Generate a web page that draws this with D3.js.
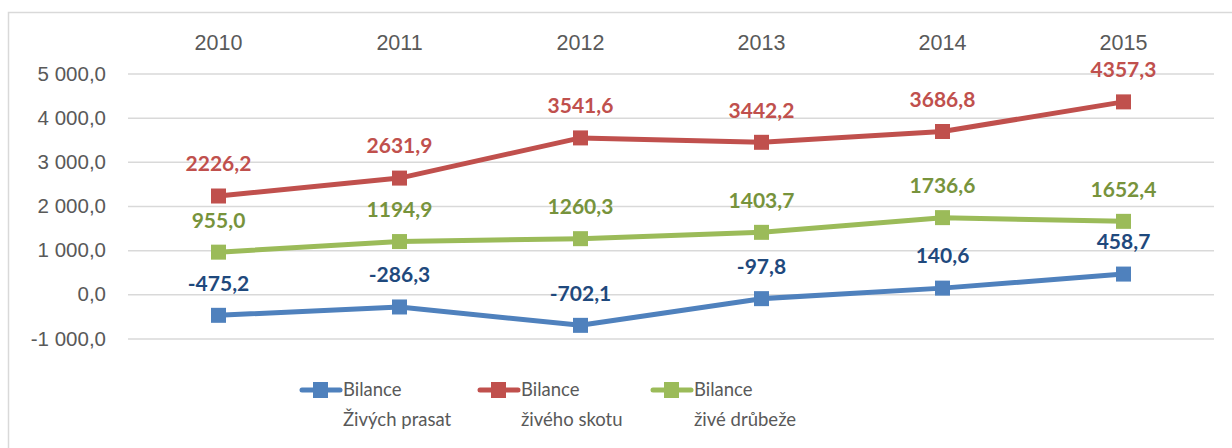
<!DOCTYPE html>
<html>
<head>
<meta charset="utf-8">
<script src="https://cdn.jsdelivr.net/npm/d3@7"></script>
<style>
  html, body { margin: 0; padding: 0; background: #fff; }
  svg { display: block; font-family: Lato, "Open Sans", sans-serif; }
</style>
</head>
<body>
<svg id="chart" width="1232" height="448"></svg>
<script>
// Years on the category axis
const years = ["2010", "2011", "2012", "2013", "2014", "2015"];
// Balance values per series
const pigs    = [-475.2, -286.3, -702.1, -97.8, 140.6, 458.7];
const cattle  = [2226.2, 2631.9, 3541.6, 3442.2, 3686.8, 4357.3];
const poultry = [955.0, 1194.9, 1260.3, 1403.7, 1736.6, 1652.4];
// Value axis ticks
const yTicks = [-1000, 0, 1000, 2000, 3000, 4000, 5000];
// Legend entries (two lines each)
const seriesNames = [["Bilance", "Živých prasat"], ["Bilance", "živého skotu"], ["Bilance", "živé drůbeže"]];

const series = [
  { name: seriesNames[0], values: pigs,    line: "#4F81BD", label: "#1F497D" },
  { name: seriesNames[1], values: cattle,  line: "#C0504D", label: "#C0504D" },
  { name: seriesNames[2], values: poultry, line: "#9BBB59", label: "#77933C" }
];

const svg = d3.select("#chart");

// Outer frame
svg.append("rect")
  .attr("x", 8.5).attr("y", 12.5)
  .attr("width", 1250).attr("height", 460)
  .attr("fill", "none").attr("stroke", "#d9d9d9").attr("stroke-width", 1.5);

const x = d3.scaleBand().domain(years).range([128, 1214]);
const y = d3.scaleLinear().domain([-1000, 5000]).range([338.5, 73.5]);

// Czech number style: space as thousands separator, comma as decimal mark, ASCII hyphen for minus
const czech = (spec) => d => d3.format(spec)(d)
  .replace(/,/g, " ").replace(".", ",").replace("\u2212", "-");

// Horizontal gridlines + value labels
const yAxis = d3.axisLeft(y).tickValues(yTicks).tickSize(-(1214 - 128))
  .tickFormat(czech(",.1f")).tickPadding(22);
const gy = svg.append("g").attr("transform", "translate(128,0)").call(yAxis);
gy.select(".domain").remove();
gy.selectAll(".tick line").attr("stroke", "#d9d9d9").attr("stroke-width", 1.5);
gy.selectAll(".tick text").attr("fill", "#595959").style("font-size", "20.5px");

// Year labels along the top
const xAxis = d3.axisTop(x).tickSize(0).tickPadding(0);
const gx = svg.append("g").attr("transform", "translate(0,50)").call(xAxis);
gx.select(".domain").remove();
gx.selectAll(".tick text").attr("fill", "#595959").style("font-size", "21.5px");

const cx = d => x(d) + x.bandwidth() / 2;
const line = d3.line().x((d, i) => cx(years[i])).y(d => y(d));
const labelFmt = czech(".1f");

series.forEach(s => {
  const g = svg.append("g");
  g.append("path").datum(s.values)
    .attr("d", line).attr("fill", "none")
    .attr("stroke", s.line).attr("stroke-width", 5).attr("stroke-linejoin", "round");
  g.selectAll("rect").data(s.values).join("rect")
    .attr("x", (d, i) => cx(years[i]) - 7.5).attr("y", d => y(d) - 7.5)
    .attr("width", 15).attr("height", 15).attr("fill", s.line);
  g.selectAll("text").data(s.values).join("text")
    .attr("x", (d, i) => cx(years[i])).attr("y", d => y(d) - 32)
    .attr("dy", "0.35em").attr("text-anchor", "middle")
    .attr("fill", s.label).style("font-size", "21px").style("font-weight", "bold")
    .text(labelFmt);
});

// Legend
const legendX = [300, 478, 651];
series.forEach((s, i) => {
  const g = svg.append("g").attr("transform", `translate(${legendX[i]},390)`);
  g.append("line").attr("x1", 2).attr("x2", 40).attr("y1", 0).attr("y2", 0)
    .attr("stroke", s.line).attr("stroke-width", 5).attr("stroke-linecap", "round");
  g.append("rect").attr("x", 13).attr("y", -8).attr("width", 15).attr("height", 16).attr("fill", s.line);
  s.name.forEach((t, j) => {
    g.append("text").attr("x", 43).attr("y", j * 30).attr("dy", "0.35em")
      .attr("fill", "#595959").style("font-size", "18.5px").text(t);
  });
});
</script>
</body>
</html>
